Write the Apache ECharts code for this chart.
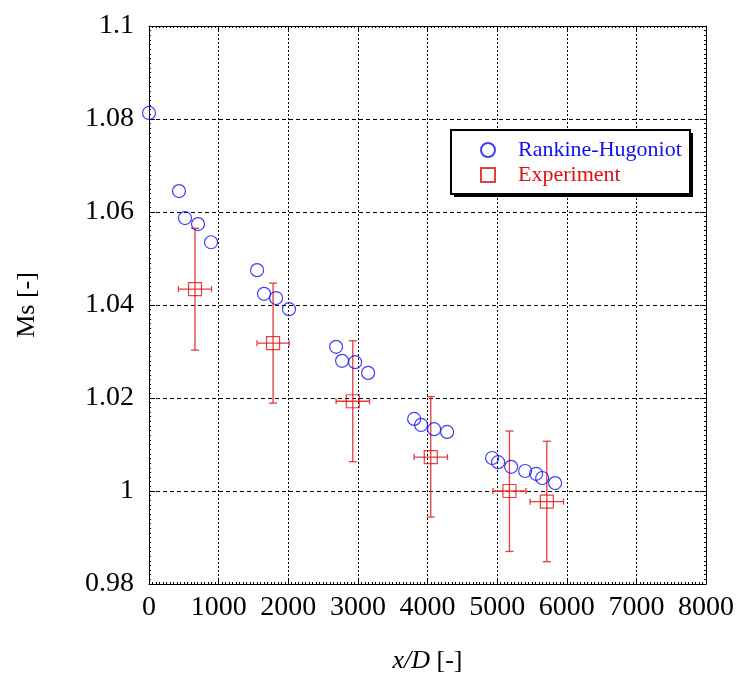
<!DOCTYPE html>
<html>
<head>
<meta charset="utf-8">
<script src="https://cdn.jsdelivr.net/npm/echarts@6/dist/echarts.min.js"></script>
<style>
html,body{margin:0;padding:0;background:#fff;}
#main{width:742px;height:684px;}
</style>
</head>
<body>
<div id="main"></div>
<script>
// Rankine-Hugoniot (x/D, Ms)
const rhX = [0, 431, 517, 704, 891, 1552, 1652, 1825, 2011, 2687, 2773, 2960, 3147, 3808, 3908, 4095, 4282, 4928, 5014, 5201, 5402, 5560, 5647, 5833];
const rhY = [1.0813, 1.0645, 1.0587, 1.0574, 1.0535, 1.0475, 1.0424, 1.0415, 1.0391, 1.0310, 1.0280, 1.0277, 1.0254, 1.0155, 1.0142, 1.0133, 1.0127, 1.0071, 1.0062, 1.0052, 1.0043, 1.0037, 1.0028, 1.0017];
// Experiment (x/D, Ms) with error bars
const expX = [661, 1782, 2927, 4047, 5177, 5714];
const expY = [1.0434, 1.0318, 1.0193, 1.0073, 1.0000, 0.9977];
const expXErr = [238, 230, 240, 240, 237, 240];
const expYLow = [1.0303, 1.0189, 1.0063, 0.9944, 0.9870, 0.9848];
const expYHigh = [1.0565, 1.0447, 1.0323, 1.0203, 1.0129, 1.0107];
// Tick labels
const xTickLabels = ['0', '1000', '2000', '3000', '4000', '5000', '6000', '7000', '8000'];
const yTickLabels = ['0.98', '1', '1.02', '1.04', '1.06', '1.08', '1.1'];

const FONT = 'Liberation Serif';
const BLUE = '#1010f0';
const RED = '#e01010';
const BAR = '#e83a3a';

const rhData = rhX.map((x, i) => [x, rhY[i]]);
const expData = expX.map((x, i) => [x, expY[i]]);
const errData = expX.map((x, i) => [x, expY[i], expXErr[i], expYLow[i], expYHigh[i]]);

function renderErr(params, api) {
  const x = api.value(0), y = api.value(1), xe = api.value(2), lo = api.value(3), hi = api.value(4);
  const pTop = api.coord([x, hi]);
  const pBot = api.coord([x, lo]);
  const pL = api.coord([x - xe, y]);
  const pR = api.coord([x + xe, y]);
  const st = { stroke: BAR, lineWidth: 1.3 };
  const cw = 4, ch = 3;
  return {
    type: 'group',
    children: [
      { type: 'line', shape: { x1: pTop[0], y1: pTop[1], x2: pBot[0], y2: pBot[1] }, style: st },
      { type: 'line', shape: { x1: pTop[0] - cw, y1: pTop[1], x2: pTop[0] + cw, y2: pTop[1] }, style: st },
      { type: 'line', shape: { x1: pBot[0] - cw, y1: pBot[1], x2: pBot[0] + cw, y2: pBot[1] }, style: st },
      { type: 'line', shape: { x1: pL[0], y1: pL[1], x2: pR[0], y2: pR[1] }, style: st },
      { type: 'line', shape: { x1: pL[0], y1: pL[1] - ch, x2: pL[0], y2: pL[1] + ch }, style: st },
      { type: 'line', shape: { x1: pR[0], y1: pR[1] - ch, x2: pR[0], y2: pR[1] + ch }, style: st }
    ]
  };
}

const axisCommon = {
  type: 'value',
  axisLine: { show: true, onZero: false, lineStyle: { color: '#000', width: 1 } },
  axisTick: { show: true, inside: true, length: 6, lineStyle: { color: '#000' } },
  minorTick: { show: true, splitNumber: 20, length: 2, lineStyle: { color: '#000' } },
  minorSplitLine: { show: false }
};

const chart = echarts.init(document.getElementById('main'), null, { renderer: 'canvas' });
chart.setOption({
  animation: false,
  backgroundColor: '#fff',
  grid: { left: 149, right: 36, top: 26, bottom: 100, show: false },
  xAxis: [
    Object.assign({}, axisCommon, {
      position: 'bottom', min: 0, max: 8000, interval: 1000,
      axisLabel: { show: true, margin: 10, color: '#000', fontFamily: FONT, fontSize: 28,
        formatter: (v) => xTickLabels[Math.round(v / 1000)] },
      splitLine: { show: true, lineStyle: { color: '#000', type: [2, 2], width: 1 } },
      name: '{i|x/D} [-]', nameLocation: 'middle', nameGap: 64,
      nameTextStyle: { color: '#000', fontFamily: FONT, fontSize: 26,
        rich: { i: { fontStyle: 'italic', fontFamily: FONT, fontSize: 26, color: '#000' } } }
    }),
    Object.assign({}, axisCommon, {
      position: 'top', min: 0, max: 8000, interval: 1000,
      axisLabel: { show: false }, splitLine: { show: false }
    })
  ],
  yAxis: [
    Object.assign({}, axisCommon, {
      position: 'left', min: 0.98, max: 1.1, interval: 0.02,
      axisLabel: { show: true, margin: 15, color: '#000', fontFamily: FONT, fontSize: 28,
        formatter: (v) => yTickLabels[Math.round((v - 0.98) / 0.02)] },
      splitLine: { show: true, lineStyle: { color: '#000', type: [4, 3], width: 1 } },
      name: 'Ms [-]', nameLocation: 'middle', nameGap: 109, nameRotate: 90,
      nameTextStyle: { color: '#000', fontFamily: FONT, fontSize: 26 }
    }),
    Object.assign({}, axisCommon, {
      position: 'right', min: 0.98, max: 1.1, interval: 0.02,
      axisLabel: { show: false }, splitLine: { show: false }
    })
  ],
  graphic: [
    { type: 'rect', z: 50, left: 454, top: 133, shape: { width: 239, height: 64 },
      style: { fill: '#000' } },
    { type: 'rect', z: 51, left: 450, top: 129, shape: { width: 239, height: 64 },
      style: { fill: '#fff', stroke: '#000', lineWidth: 2 } }
  ],
  legend: {
    show: true,
    z: 60,
    orient: 'vertical',
    left: 450, top: 129,
    padding: [10, 8, 8, 30],
    itemGap: 3,
    itemWidth: 14, itemHeight: 14,
    textStyle: { fontFamily: FONT, fontSize: 22, padding: [0, 0, 0, 18] },
    data: [
      { name: 'Rankine-Hugoniot', textStyle: { color: BLUE } },
      { name: 'Experiment', textStyle: { color: RED } }
    ]
  },
  series: [
    {
      name: 'Experiment-err', type: 'custom', xAxisIndex: 0, yAxisIndex: 0,
      renderItem: renderErr, data: errData, z: 2, silent: true
    },
    {
      name: 'Rankine-Hugoniot', type: 'scatter', xAxisIndex: 0, yAxisIndex: 0,
      symbol: 'circle', symbolSize: 13,
      itemStyle: { color: 'rgba(255,255,255,0)', borderColor: BLUE, borderWidth: 1.2 },
      data: rhData, z: 3
    },
    {
      name: 'Experiment', type: 'scatter', xAxisIndex: 0, yAxisIndex: 0,
      symbol: 'rect', symbolSize: 13,
      itemStyle: { color: 'rgba(255,255,255,0)', borderColor: RED, borderWidth: 1.2 },
      data: expData, z: 3
    }
  ]
});
</script>
</body>
</html>
